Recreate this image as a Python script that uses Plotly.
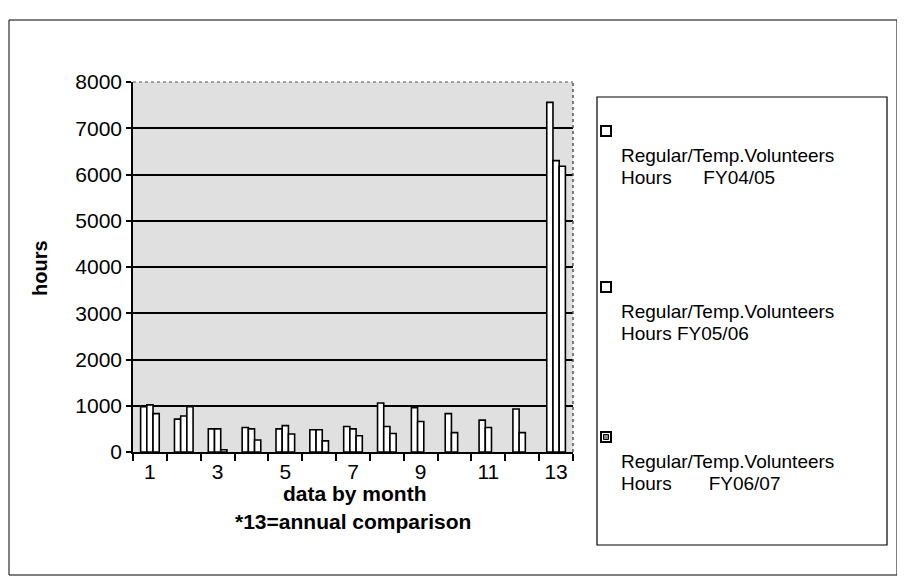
import plotly.graph_objects as go

months = list(range(1, 14))
tick_labels = ["1", "3", "5", "7", "9", "11", "13"]
tick_positions = [1, 3, 5, 7, 9, 11, 13]
series_names = [
    "Regular/Temp.Volunteers Hours FY04/05",
    "Regular/Temp.Volunteers Hours FY05/06",
    "Regular/Temp.Volunteers Hours FY06/07",
]
fy0405 = [980, 710, 500, 530, 500, 480, 550, 1060, 960, 830, 690, 930, 7560]
fy0506 = [1020, 780, 500, 500, 570, 480, 500, 550, 660, 420, 530, 420, 6300]
fy0607 = [830, 980, 50, 260, 390, 240, 350, 400, None, None, None, None, 6180]

legend_lines = [
    ("Regular/Temp.Volunteers", "Hours&nbsp;&nbsp;&nbsp;&nbsp;&nbsp;&nbsp;FY04/05"),
    ("Regular/Temp.Volunteers", "Hours FY05/06"),
    ("Regular/Temp.Volunteers", "Hours&nbsp;&nbsp;&nbsp;&nbsp;&nbsp;&nbsp;&nbsp;FY06/07"),
]

FONT = "Liberation Sans, Arial, sans-serif"

# page body has an 8px margin; work in page pixels and shift
OFF = 8
L, R, T, B = 133, 573, 82, 452
W, H = 905 - OFF, 581 - OFF


def xp(px):
    return (px - L) / (R - L)


def yp(py):
    return (B - py) / (B - T)


fig = go.Figure()
for name, vals in zip(series_names, [fy0405, fy0506, fy0607]):
    fig.add_trace(go.Bar(
        x=months, y=vals, name=name,
        marker=dict(color="white", line=dict(color="black", width=1.6)),
        showlegend=False,
    ))

shapes = []
shapes.append(dict(type="rect", xref="paper", yref="paper",
                   x0=xp(9), x1=xp(897), y0=yp(575), y1=yp(20),
                   line=dict(color="black", width=1), layer="below"))
shapes.append(dict(type="line", xref="paper", yref="paper",
                   x0=0, x1=1, y0=1, y1=1,
                   line=dict(color="#555", width=1, dash="dot")))
shapes.append(dict(type="line", xref="paper", yref="paper",
                   x0=1, x1=1, y0=0, y1=1,
                   line=dict(color="#555", width=1.5, dash="dot")))
shapes.append(dict(type="rect", xref="paper", yref="paper",
                   x0=xp(597), x1=xp(887), y0=yp(545), y1=yp(97),
                   line=dict(color="black", width=1.2), fillcolor="white"))

annotations = []
marker_y = [131, 287, 437]
for i, (l1, l2) in enumerate(legend_lines):
    my = marker_y[i]
    shapes.append(dict(type="rect", xref="paper", yref="paper",
                       x0=xp(601), x1=xp(611), y0=yp(my + 5), y1=yp(my - 5),
                       line=dict(color="black", width=2), fillcolor="white"))
    if i == 2:
        shapes.append(dict(type="rect", xref="paper", yref="paper",
                           x0=xp(603.5), x1=xp(608.5), y0=yp(my + 2.5), y1=yp(my - 2.5),
                           line=dict(color="black", width=1), fillcolor="#888"))
    annotations.append(dict(xref="paper", yref="paper", x=xp(619), y=yp(my + 24),
                            xanchor="left", yanchor="middle", showarrow=False,
                            text=l1, font=dict(family=FONT, size=19, color="black")))
    annotations.append(dict(xref="paper", yref="paper", x=xp(619), y=yp(my + 46),
                            xanchor="left", yanchor="middle", showarrow=False,
                            text=l2, font=dict(family=FONT, size=19, color="black")))

annotations.append(dict(xref="paper", yref="paper", x=xp(40), y=yp(268),
                        xanchor="center", yanchor="middle", showarrow=False, textangle=-90,
                        text="<b>hours</b>", font=dict(family=FONT, size=20, color="black")))
annotations.append(dict(xref="paper", yref="paper", x=xp(355), y=yp(493),
                        xanchor="center", yanchor="middle", showarrow=False,
                        text="<b>data by month</b>", font=dict(family=FONT, size=21, color="black")))
annotations.append(dict(xref="paper", yref="paper", x=xp(353), y=yp(521),
                        xanchor="center", yanchor="middle", showarrow=False,
                        text="<b>*13=annual comparison</b>", font=dict(family=FONT, size=21, color="black")))

fig.update_layout(
    width=W, height=H,
    margin=dict(l=L - OFF, r=905 - R, t=T - OFF, b=581 - B, pad=0),
    paper_bgcolor="white",
    plot_bgcolor="#e0e0e0",
    barmode="group",
    bargap=0.45,
    bargroupgap=0.0,
    font=dict(family=FONT, color="black"),
    shapes=shapes,
    annotations=annotations,
    xaxis=dict(
        range=[0.5, 13.5], tickvals=tick_positions, ticktext=tick_labels,
        ticks="", showgrid=False, zeroline=False,
        showline=True, linecolor="black", linewidth=1.5,
        tickfont=dict(family=FONT, size=21, color="black"),
        minor=dict(ticks="outside", tick0=0.5, dtick=1, ticklen=7,
                   tickcolor="black", tickwidth=1.5, showgrid=False),
    ),
    yaxis=dict(
        range=[0, 8000], dtick=1000, tickformat="d",
        ticks="outside", ticklen=5, tickcolor="black", tickwidth=1.5,
        showgrid=True, gridcolor="black", gridwidth=1.5,
        zeroline=False, showline=True, linecolor="black", linewidth=1.5,
        tickfont=dict(family=FONT, size=21, color="black"),
    ),
)

fig.write_html("out.html")
